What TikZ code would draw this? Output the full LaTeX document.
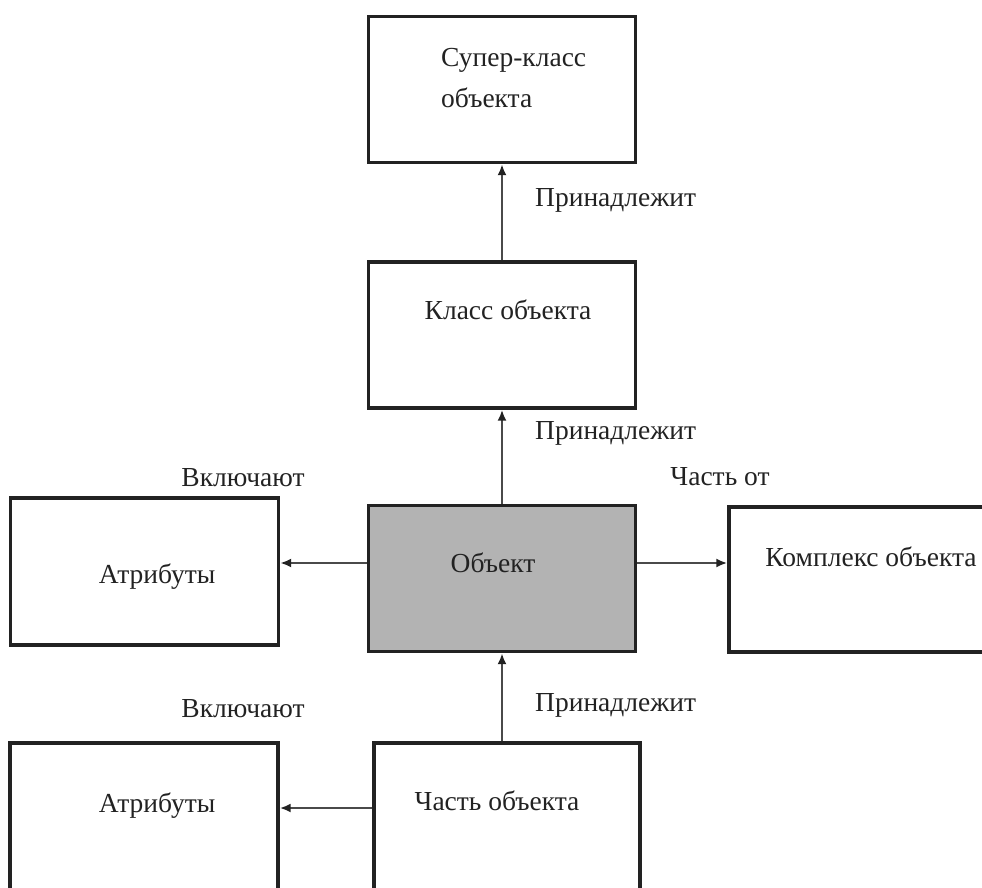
\documentclass[tikz,border=0pt]{standalone}
\usepackage{fontspec}
\setmainfont{Liberation Serif}
\usetikzlibrary{arrows.meta}
\definecolor{ink}{HTML}{222222}
\definecolor{lnk}{HTML}{4A4A4A}
\definecolor{objfill}{HTML}{B3B3B3}
\tikzset{
  box/.style={draw=ink, line width=3.4pt, rectangle, inner sep=0pt},
  lbl/.style={text=ink, font=\fontsize{27.5}{41}\selectfont, inner sep=0pt},
  arr/.style={draw=lnk, line width=2.2pt, -{Latex[length=11pt,width=9pt,color=ink]}}
}
\begin{document}
\begin{tikzpicture}[x=1pt,y=-1pt]
\useasboundingbox (0,0) rectangle (982,888);
\clip (0,0) rectangle (982,888);
% boxes
\node[box, minimum width=267pt, minimum height=146pt] (sup) at (502,89.5) {};
\node[box, minimum width=267pt, minimum height=146pt] (cls) at (502,335) {};
\node[box, fill=objfill, minimum width=267pt, minimum height=146pt] (obj) at (502,578.5) {};
\node[box, minimum width=268pt, minimum height=147pt] (at1) at (144.5,571.5) {};
\node[box, minimum width=280pt, minimum height=145pt] (cpx) at (869,579.5) {};
\node[box, minimum width=268pt, minimum height=180pt] (at2) at (144,833) {};
\node[box, minimum width=266pt, minimum height=180pt] (prt) at (507,833) {};
% texts in boxes
\node[lbl, anchor=west, align=left] (supt) at (441,78) {Супер-класс\\объекта};
\node[lbl] (clst) at (508,310) {Класс объекта};
\node[lbl] (objt) at (493,563) {Объект};
\node[lbl] (at1t) at (157,577) {Атрибуты};
\node[lbl] (cpxt) at (871,557) {Комплекс объекта};
\node[lbl] (at2t) at (157,806) {Атрибуты};
\node[lbl] (prtt) at (497,801) {Часть объекта};
% connector labels
\node[lbl, anchor=west] (p1) at (535,200) {Принадлежит};
\node[lbl, anchor=west] (p2) at (535,433) {Принадлежит};
\node[lbl, anchor=west] (p3) at (535,705) {Принадлежит};
\node[lbl] (v1) at (243,478) {Включают};
\node[lbl] (v2) at (243,709) {Включают};
\node[lbl] (ch) at (720,477) {Часть от};
% connectors
\coordinate (h1) at (0,563);
\coordinate (h2) at (0,808);
\draw[arr] (cls.north) -- (sup.south);
\draw[arr] (obj.north) -- (cls.south);
\draw[arr] (prt.north -| obj.south) -- (obj.south);
\draw[arr] (obj.west |- h1) -- (at1.east |- h1);
\draw[arr] (obj.east |- h1) -- (cpx.west |- h1);
\draw[arr] (prt.west |- h2) -- (at2.east |- h2);
\end{tikzpicture}
\end{document}
